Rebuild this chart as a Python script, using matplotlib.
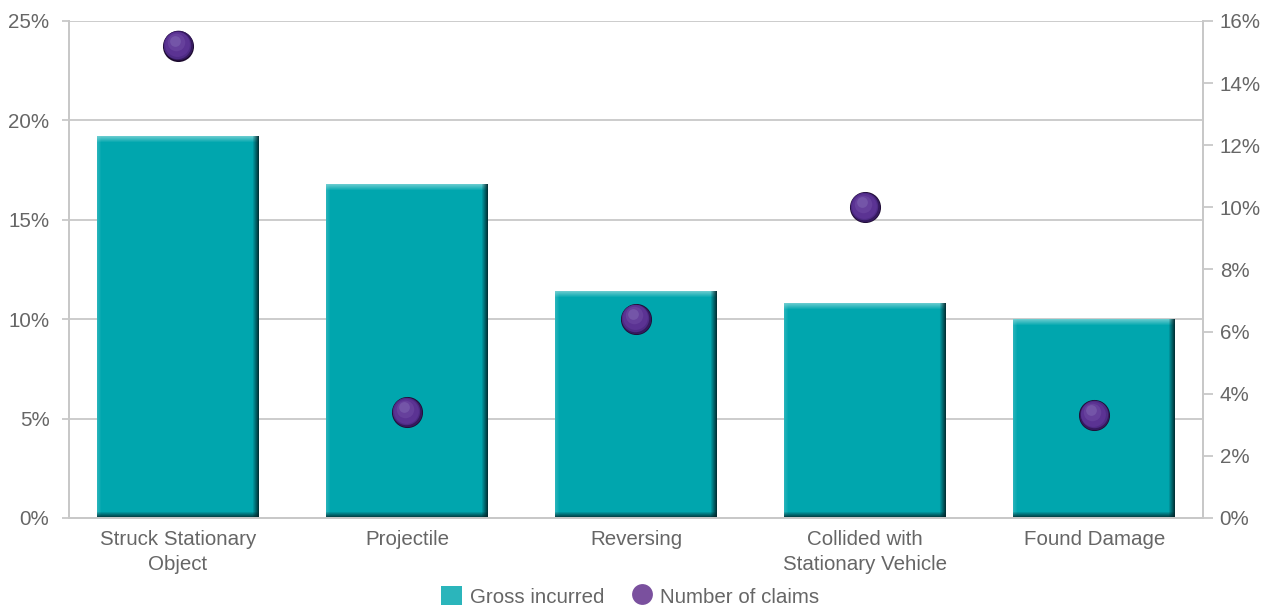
import numpy as np
import matplotlib.pyplot as plt
from matplotlib.patches import Patch
from matplotlib.lines import Line2D
from matplotlib.ticker import FuncFormatter, MultipleLocator
from matplotlib.transforms import ScaledTranslation

categories = ["Struck Stationary\nObject", "Projectile", "Reversing",
              "Collided with\nStationary Vehicle", "Found Damage"]
gross_incurred = [19.2, 16.8, 11.4, 10.8, 10.0]   # left axis, %
num_claims = [15.2, 3.4, 6.4, 10.0, 3.3]          # right axis, %

TEAL = np.array([0x00, 0xA6, 0xAE]) / 255
GRID = "#c8c8c8"
TXT = "#666666"
FS = 14.8

plt.rcParams['font.family'] = ['Liberation Sans', 'DejaVu Sans']

DPI = 100
fig = plt.figure(figsize=(12.76, 6.12), dpi=DPI)
AX_RECT = [0.054, 0.1536, 0.8888, 0.8121]
ax = fig.add_axes(AX_RECT)
ax2 = ax.twinx()

XLIM = (-0.476, 4.474)
ax.set_xlim(*XLIM)
ax.set_ylim(0, 25)
ax2.set_ylim(0, 16)

# pixel size of the axes, used to keep the bevel widths constant in pixels
ax_w_px = fig.get_figwidth() * DPI * AX_RECT[2]
ax_h_px = fig.get_figheight() * DPI * AX_RECT[3]
px_per_x = ax_w_px / (XLIM[1] - XLIM[0])
px_per_y = ax_h_px / 25.0

bar_w = 0.707


def bevel_image(w_px, h_px, bev=6):
    img = np.ones((h_px, w_px, 3)) * TEAL
    rows = np.arange(h_px)[:, None, None] * np.ones((1, w_px, 1))
    cols = np.arange(w_px)[None, :, None] * np.ones((h_px, 1, 1))
    light = np.array([0.50, 0.83, 0.84])
    dark = np.array([0.0, 0.15, 0.17])
    # top highlight
    t = np.clip(1 - rows / bev, 0, 1)
    img = img * (1 - t * 0.8) + light * t * 0.8
    # left slight highlight
    l = np.clip(1 - cols / 4, 0, 1)
    img = img * (1 - l * 0.3) + light * l * 0.3
    # right shadow
    r = np.clip(1 - (w_px - 1 - cols) / bev, 0, 1)
    img = img * (1 - r * 0.9) + dark * r * 0.9
    # bottom shadow
    b = np.clip(1 - (h_px - 1 - rows) / bev, 0, 1)
    img = img * (1 - b * 0.9) + dark * b * 0.9
    return np.clip(img, 0, 1)


x = np.arange(len(categories))
for xi, h in zip(x, gross_incurred):
    w_px = int(round(bar_w * px_per_x))
    h_px = max(int(round(h * px_per_y)), 14)
    ax.imshow(bevel_image(w_px, h_px), extent=[xi - bar_w / 2, xi + bar_w / 2, 0, h],
              aspect='auto', interpolation='bilinear', zorder=2)
ax.set_xlim(*XLIM)
ax.set_ylim(0, 25)

# shaded spheres for the number of claims, built from stacked circles
layers = [
    (500, "#1c0a2e", 0, 0),
    (455, "#35195e", -0.3, 0.4),
    (390, "#4e2b85", -0.6, 0.9),
    (320, "#5b3393", -0.9, 1.3),
    (160, "#66409c", -1.6, 2.7),
    (60, "#7455a8", -2.4, 3.8),
]
for s, c, dx, dy in layers:
    off = ScaledTranslation(dx / 72, dy / 72, fig.dpi_scale_trans)
    ax2.scatter(x, num_claims, s=s, color=c, linewidths=0, zorder=3,
                transform=ax2.transData + off)

# axes styling
ax.yaxis.set_major_locator(MultipleLocator(5))
ax2.yaxis.set_major_locator(MultipleLocator(2))
pct = FuncFormatter(lambda v, _: f"{v:.0f}%")
ax.yaxis.set_major_formatter(pct)
ax2.yaxis.set_major_formatter(pct)
ax.grid(axis='y', color=GRID, lw=1.3, zorder=0)
ax.set_axisbelow(True)

ax.set_xticks(x)
ax.set_xticklabels(categories, fontsize=FS, color=TXT, linespacing=1.4)
ax.tick_params(axis='x', length=0, pad=9)
ax.tick_params(axis='y', length=5, width=1.3, color=GRID, labelsize=FS,
               labelcolor=TXT, pad=9)
ax2.tick_params(axis='y', length=7, width=1.3, color=GRID, labelsize=FS,
                labelcolor=TXT, pad=5)

for a in (ax, ax2):
    a.spines['top'].set_visible(False)
    for side in ('left', 'right', 'bottom'):
        a.spines[side].set_color(GRID)
        a.spines[side].set_linewidth(1.3)

handles = [
    Patch(facecolor="#2bb5bb", edgecolor='none', label="Gross incurred"),
    Line2D([], [], marker='o', ls='none', markersize=15, markerfacecolor="#7a509e",
           markeredgewidth=0, label="Number of claims"),
]
fig.legend(handles=handles, loc='center', bbox_to_anchor=(0.494, 0.026), ncol=2,
           frameon=False, fontsize=FS, handlelength=1.0, handleheight=1.1,
           handletextpad=0.4, columnspacing=1.3, labelcolor=TXT)

fig.savefig("out.png", dpi=DPI)
